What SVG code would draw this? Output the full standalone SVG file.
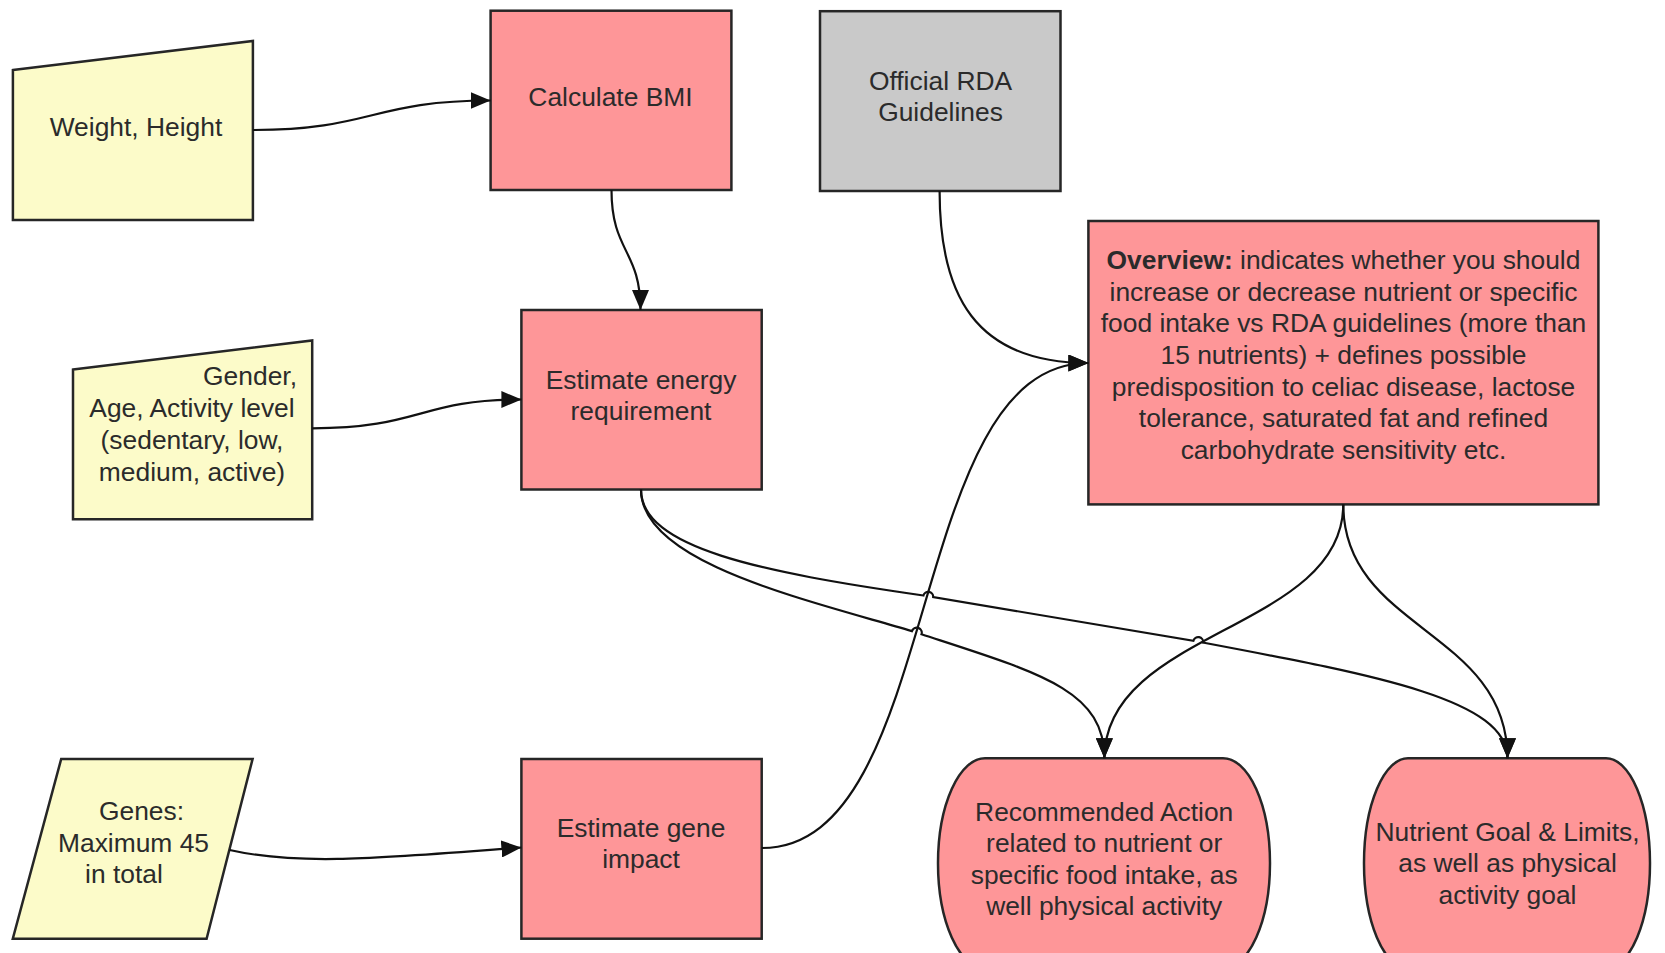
<svg xmlns="http://www.w3.org/2000/svg" width="1665" height="953" viewBox="0 0 1665 953">
<style>
.t{font-family:"Liberation Sans",Arial,sans-serif;font-size:26.4px;fill:#2b2b2b;text-anchor:middle}
.e{text-anchor:end}
.b{font-weight:bold}
.red{fill:#fe9698;stroke:#262626;stroke-width:2.5}
.yel{fill:#fcfbc9;stroke:#262626;stroke-width:2.5}
.gry{fill:#c9c9c9;stroke:#262626;stroke-width:2.5}
.c{fill:none;stroke:#111;stroke-width:2.2}
.a{marker-end:url(#arr)}
</style>
<defs>
<marker id="arr" markerWidth="20" markerHeight="17" refX="20" refY="8.5" orient="auto" markerUnits="userSpaceOnUse">
<path d="M0,0 L20,8.5 L0,17 z" fill="#111"/>
</marker>
</defs>
<rect width="1665" height="953" fill="#fff"/>

<g id="weight-height">
<polygon class="yel" points="12.9,70 252.9,41 252.9,220 12.9,220"/>
<text class="t" x="136" y="135.5">Weight, Height</text>
</g>

<g id="calculate-bmi">
<rect class="red" x="490.6" y="10.7" width="240.8" height="179.3"/>
<text class="t" x="610.5" y="106">Calculate BMI</text>
</g>

<g id="official-rda">
<rect class="gry" x="820" y="11.2" width="240.5" height="179.8"/>
<text class="t" x="940.5" y="90">Official RDA</text>
<text class="t" x="940.5" y="121">Guidelines</text>
</g>

<g id="overview">
<rect class="red" x="1088.4" y="221" width="510" height="283.4"/>
<text class="t" x="1343.5" y="269"><tspan class="b">Overview:</tspan> indicates whether you should</text>
<text class="t" x="1343.5" y="300.7">increase or decrease nutrient or specific</text>
<text class="t" x="1343.5" y="332.3">food intake vs RDA guidelines (more than</text>
<text class="t" x="1343.5" y="364">15 nutrients) + defines possible</text>
<text class="t" x="1343.5" y="395.7">predisposition to celiac disease, lactose</text>
<text class="t" x="1343.5" y="427.3">tolerance, saturated fat and refined</text>
<text class="t" x="1343.5" y="459">carbohydrate sensitivity etc.</text>
</g>

<g id="gender-age">
<polygon class="yel" points="73,369.5 312.2,340.5 312.2,519.3 73,519.3"/>
<text class="t e" x="297" y="385">Gender,</text>
<text class="t" x="192" y="417">Age, Activity level</text>
<text class="t" x="192" y="449">(sedentary, low,</text>
<text class="t" x="192" y="481">medium, active)</text>
</g>

<g id="estimate-energy">
<rect class="red" x="521.4" y="310" width="240.3" height="179.5"/>
<text class="t" x="641" y="388.5">Estimate energy</text>
<text class="t" x="641" y="419.5">requirement</text>
</g>

<g id="genes">
<polygon class="yel" points="61.2,759 252.6,759 206.6,938.7 12.8,938.7"/>
<text class="t" x="141.5" y="820">Genes:</text>
<text class="t" x="133.5" y="851.5">Maximum 45</text>
<text class="t" x="124" y="883">in total</text>
</g>

<g id="estimate-gene">
<rect class="red" x="521.4" y="759" width="240.3" height="179.7"/>
<text class="t" x="641" y="836.5">Estimate gene</text>
<text class="t" x="641" y="868">impact</text>
</g>

<g id="recommended-action">
<rect class="red" x="938" y="758.3" width="332" height="210" rx="47" ry="105"/>
<text class="t" x="1104.2" y="820.5">Recommended Action</text>
<text class="t" x="1104.2" y="852">related to nutrient or</text>
<text class="t" x="1104.2" y="883.5">specific food intake, as</text>
<text class="t" x="1104.2" y="915">well physical activity</text>
</g>

<g id="nutrient-goal">
<rect class="red" x="1364" y="758.3" width="286" height="210" rx="44" ry="105"/>
<text class="t" x="1507.5" y="840.5">Nutrient Goal &amp; Limits,</text>
<text class="t" x="1507.5" y="872">as well as physical</text>
<text class="t" x="1507.5" y="903.5">activity goal</text>
</g>

<g id="connectors">
<path class="c a" d="M252.9,130 C372,130 372,100.5 490.6,100.5"/>
<path class="c a" d="M611.5,190 C611.5,252 640.5,250 640.5,310"/>
<path class="c a" d="M312.2,428.3 C420,428.3 420,399.5 521.4,399.5"/>
<path class="c a" d="M229.6,850 C300,866 380,858 521.4,847.5"/>
<path class="c a" d="M939.6,191 C939.6,295 975,363 1088.4,363"/>
<path class="c a" d="M1343.3,504.4 C1343.3,630 1104.4,630 1104.4,758.3"/>
<path class="c a" d="M1343.3,504.4 C1343.3,630 1507.5,630 1507.5,758.3"/>
<path class="c a" d="M641,489.5 C641,562 800,598 911.9,631.1 A5,5 0 0 1 921.5,634.3 C1040,673 1104.4,690 1104.4,758.3"/>
<path class="c a" d="M641,489.5 C641,548 760,572 923.4,595.5 A5,5 0 0 1 933.2,597.1 L1193.4,640.8 A5,5 0 0 1 1203.2,642.6 C1380,676 1507.5,700 1507.5,758.3"/>
<path class="c a" d="M761.7,848 C944,848 904,363 1088.4,363"/>
</g>
</svg>
